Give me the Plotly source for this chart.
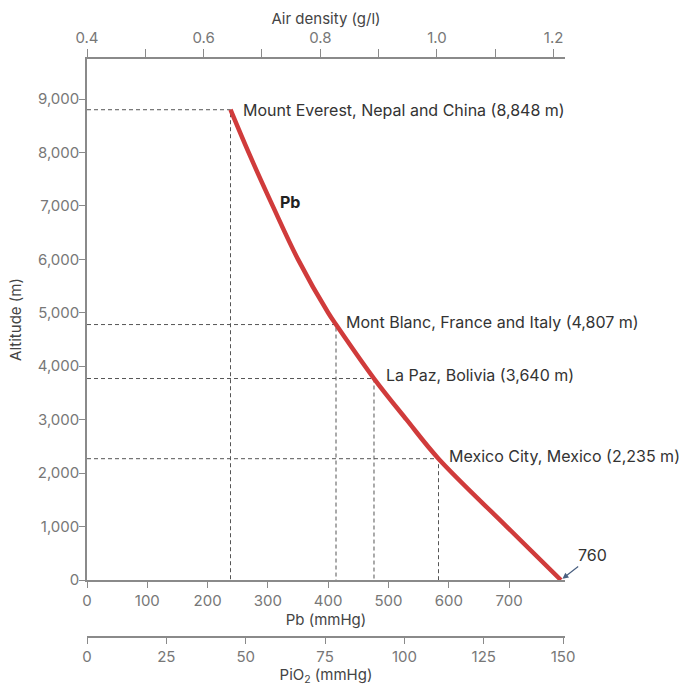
import plotly.graph_objects as go

# Curve: barometric pressure Pb (mmHg, as drawn on axis) vs altitude (m)
curve_pb = [238, 268, 308, 350, 400, 413, 476, 530, 583, 696, 786]
curve_alt = [8800, 8000, 7000, 6000, 5000, 4780, 3770, 3000, 2270, 1000, 0]

# Reference locations
places = ["Mount Everest, Nepal and China (8,848 m)",
          "Mont Blanc, France and Italy (4,807 m)",
          "La Paz, Bolivia (3,640 m)",
          "Mexico City, Mexico (2,235 m)"]
place_pb = [238, 413, 476, 583]
place_alt = [8800, 4780, 3770, 2270]

y_ticks = [0, 1000, 2000, 3000, 4000, 5000, 6000, 7000, 8000, 9000]
pb_ticks = [0, 100, 200, 300, 400, 500, 600, 700]
density_ticks = [0.4, 0.5, 0.6, 0.7, 0.8, 0.9, 1.0, 1.1, 1.2]
density_labels = ["0.4", "", "0.6", "", "0.8", "", "1.0", "", "1.2"]
pio2_ticks = [0, 25, 50, 75, 100, 125, 150]

FONT = "Inter"
AXC = "#8a8a8a"
TXT = "#333333"
TICKC = "#777777"
TITLEC = "#444444"
LBL = 16
TCK = 15
TTL = 15

fig = go.Figure()

# dashed guide lines
for pb, alt in zip(place_pb, place_alt):
    fig.add_trace(go.Scatter(x=[0, pb, pb], y=[alt, alt, 0], mode="lines",
                             line=dict(color="#555555", width=1, dash="4px,3px"),
                             hoverinfo="skip", showlegend=False))

fig.add_trace(go.Scatter(x=curve_pb, y=curve_alt, mode="lines",
                         line=dict(color="#d03b3b", width=4.5, shape="spline", smoothing=1),
                         showlegend=False))

# invisible traces to activate extra axes
fig.add_trace(go.Scatter(x=[0.4], y=[0], xaxis="x2", mode="markers",
                         marker=dict(opacity=0), showlegend=False, hoverinfo="skip"))
fig.add_trace(go.Scatter(x=[0], y=[0], xaxis="x3", mode="markers",
                         marker=dict(opacity=0), showlegend=False, hoverinfo="skip"))

shifts = [(10, 0), (8, 3), (10, 4), (8, 3)]
for name, pb, alt, (dx, dy) in zip(places, place_pb, place_alt, shifts):
    fig.add_annotation(x=pb, y=alt, text=name, showarrow=False, xanchor="left",
                       yanchor="middle", xshift=dx, yshift=dy,
                       font=dict(family=FONT, size=LBL, color=TXT))

fig.add_annotation(x=336, y=7072, text="<b>Pb</b>", showarrow=False,
                   font=dict(family=FONT, size=LBL, color="#222222"))

fig.add_annotation(x=curve_pb[-1], y=0, text="760", showarrow=True, ax=32, ay=-25,
                   arrowhead=2, arrowsize=1, arrowwidth=1.2, arrowcolor="#4a6080",
                   standoff=2, font=dict(family=FONT, size=LBL, color=TXT))

common = dict(showgrid=False, zeroline=False, showline=True, linecolor=AXC,
              linewidth=1.5, ticks="outside", tickcolor=AXC, automargin=False,
              tickfont=dict(family=FONT, size=TCK, color=TICKC))

fig.update_layout(
    width=682, height=686,
    margin=dict(l=87, r=117, t=59, b=49),
    paper_bgcolor="white", plot_bgcolor="white",
    font=dict(family=FONT, size=TCK, color=TICKC),
    xaxis=dict(range=[0, 792.8], tickvals=pb_ticks, anchor="y", ticklen=6,
               title=dict(text="Pb (mmHg)", standoff=4,
                          font=dict(family=FONT, size=TTL, color=TITLEC)), **common),
    yaxis=dict(range=[0, 9749], domain=[0.0986, 1], tickvals=y_ticks, tickformat=",",
               ticklen=6, ticklabelstandoff=-3,
               title=dict(text="Altitude (m)", standoff=12,
                          font=dict(family=FONT, size=TTL, color=TITLEC)), **common),
    xaxis2=dict(range=[0.4, 1.2195], overlaying="x", side="top", anchor="y",
                tickvals=density_ticks, ticktext=density_labels, ticklen=8,
                title=dict(text="Air density (g/l)", standoff=0,
                           font=dict(family=FONT, size=TTL, color=TITLEC)), **common),
    xaxis3=dict(range=[0, 150.6], overlaying="x", anchor="free", position=0,
                tickvals=pio2_ticks, ticklen=6,
                title=dict(text="PiO<sub>2</sub> (mmHg)", standoff=6,
                           font=dict(family=FONT, size=TTL, color=TITLEC)), **common),
)

fig.write_html("out.html",
               config={"displayModeBar": False},
               post_script="document.body.style.margin='0';"
                           "document.body.style.overflow='hidden';")
